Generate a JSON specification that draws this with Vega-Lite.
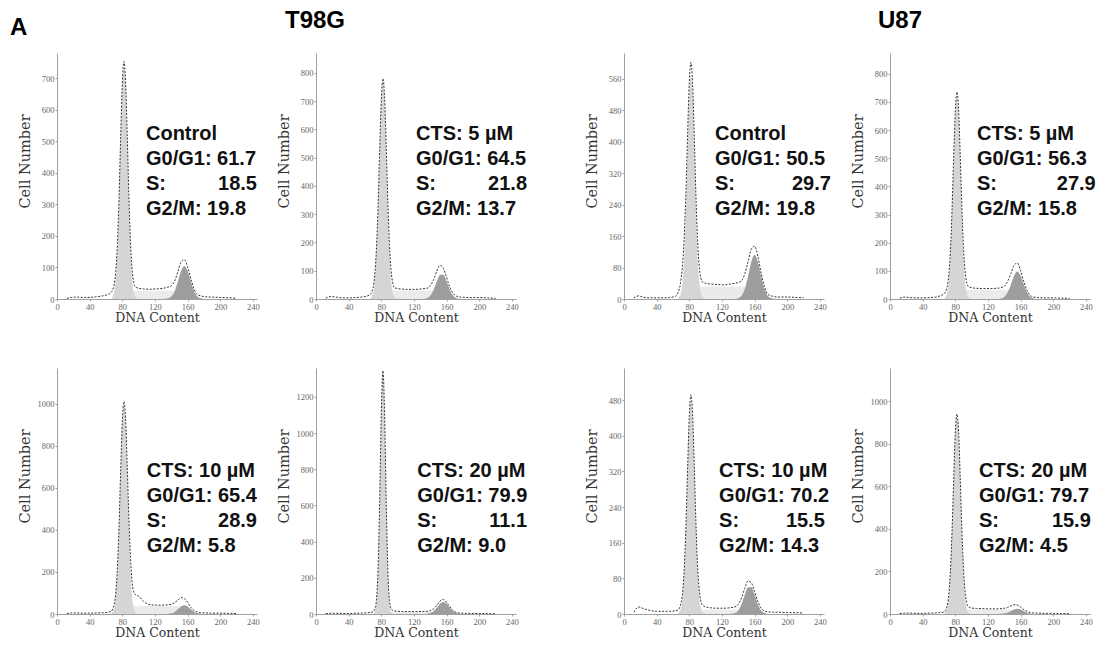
{
"$schema":"https://vega.github.io/schema/vega-lite/v6.json",
"background":"white",
"padding":{"left":10,"top":9,"right":0,"bottom":0},
"title":{"text":"A","anchor":"start","frame":"bounds","offset":-31,"dx":-7},
"spacing":56,
"datasets":{
"t":[
{"p":1,"ln":1,"lab":"Control"},{"p":1,"ln":2,"lab":"G0/G1: 61.7"},{"p":1,"ln":3,"lab":"S:","val":"18.5"},{"p":1,"ln":4,"lab":"G2/M: 19.8"},
{"p":2,"ln":1,"lab":"CTS: 5 µM"},{"p":2,"ln":2,"lab":"G0/G1: 64.5"},{"p":2,"ln":3,"lab":"S:","val":"21.8"},{"p":2,"ln":4,"lab":"G2/M: 13.7"},
{"p":3,"ln":1,"lab":"CTS: 10 µM"},{"p":3,"ln":2,"lab":"G0/G1: 65.4"},{"p":3,"ln":3,"lab":"S:","val":"28.9"},{"p":3,"ln":4,"lab":"G2/M: 5.8"},
{"p":4,"ln":1,"lab":"Control"},{"p":4,"ln":2,"lab":"G0/G1: 50.5"},{"p":4,"ln":3,"lab":"S:","val":"29.7"},{"p":4,"ln":4,"lab":"G2/M: 19.8"},
{"p":5,"ln":1,"lab":"CTS: 20 µM"},{"p":5,"ln":2,"lab":"G0/G1: 79.9"},{"p":5,"ln":3,"lab":"S:","val":"11.1"},{"p":5,"ln":4,"lab":"G2/M: 9.0"},
{"p":6,"ln":1,"lab":"CTS: 5 µM"},{"p":6,"ln":2,"lab":"G0/G1: 56.3"},{"p":6,"ln":3,"lab":"S:","val":"27.9"},{"p":6,"ln":4,"lab":"G2/M: 15.8"},
{"p":7,"ln":1,"lab":"CTS: 10 µM"},{"p":7,"ln":2,"lab":"G0/G1: 70.2"},{"p":7,"ln":3,"lab":"S:","val":"15.5"},{"p":7,"ln":4,"lab":"G2/M: 14.3"},
{"p":8,"ln":1,"lab":"CTS: 20 µM"},{"p":8,"ln":2,"lab":"G0/G1: 79.7"},{"p":8,"ln":3,"lab":"S:","val":"15.9"},{"p":8,"ln":4,"lab":"G2/M: 4.5"}
],
"h":[
{"p":1,"x":12,"d":2},{"p":1,"x":18,"d":5},{"p":1,"x":24,"d":6},{"p":1,"x":32,"d":5},{"p":1,"x":40,"d":5},{"p":1,"x":48,"d":7},{"p":1,"x":56,"d":10},{"p":1,"x":62,"d":14},
{"p":1,"x":66,"d":20,"g1":0},{"p":1,"x":70,"d":45,"g1":21},{"p":1,"x":72,"d":87,"g1":62},{"p":1,"x":74,"d":175,"g1":151},
{"p":1,"x":76,"d":322,"g1":302,"s":0},{"p":1,"x":78,"d":514,"g1":495,"s":4},{"p":1,"x":80,"d":684,"g1":666,"s":8},{"p":1,"x":82,"d":753,"g1":735,"s":13},
{"p":1,"x":84,"d":689,"g1":666,"s":18},{"p":1,"x":86,"d":522,"g1":495,"s":22},{"p":1,"x":88,"d":332,"g1":302,"s":25},{"p":1,"x":90,"d":182,"g1":151,"s":26},
{"p":1,"x":92,"d":94,"g1":62,"s":26},{"p":1,"x":94,"d":53,"g1":21,"s":26},{"p":1,"x":96,"d":38,"g1":6,"s":26},{"p":1,"x":100,"d":34,"g1":0,"s":26},
{"p":1,"x":106,"d":32,"s":26},{"p":1,"x":114,"d":31,"s":26},{"p":1,"x":122,"d":32,"s":26},{"p":1,"x":130,"d":34,"s":26,"g2":0},
{"p":1,"x":136,"d":38,"s":26,"g2":2},{"p":1,"x":140,"d":42,"s":26,"g2":8},{"p":1,"x":144,"d":56,"s":26,"g2":24},{"p":1,"x":148,"d":86,"s":26,"g2":55},
{"p":1,"x":152,"d":117,"s":23,"g2":89},{"p":1,"x":156,"d":125,"s":16,"g2":105},{"p":1,"x":160,"d":102,"s":8,"g2":89},{"p":1,"x":164,"d":64,"s":3,"g2":55},
{"p":1,"x":168,"d":31,"s":0,"g2":24},{"p":1,"x":172,"d":14,"g2":8},{"p":1,"x":176,"d":10,"g2":2},{"p":1,"x":182,"d":7,"g2":0},
{"p":1,"x":190,"d":6},{"p":1,"x":200,"d":5},{"p":1,"x":210,"d":4},{"p":1,"x":220,"d":2},

{"p":2,"x":12,"d":3},{"p":2,"x":18,"d":9},{"p":2,"x":24,"d":7},{"p":2,"x":32,"d":4},{"p":2,"x":40,"d":4},{"p":2,"x":48,"d":5},{"p":2,"x":56,"d":7},{"p":2,"x":62,"d":10},
{"p":2,"x":66,"d":15,"g1":0},{"p":2,"x":70,"d":40,"g1":22},{"p":2,"x":72,"d":85,"g1":65},{"p":2,"x":74,"d":175,"g1":157},
{"p":2,"x":76,"d":326,"g1":312,"s":0},{"p":2,"x":78,"d":527,"g1":512,"s":5},{"p":2,"x":80,"d":704,"g1":689,"s":9},{"p":2,"x":82,"d":779,"g1":760,"s":15},
{"p":2,"x":84,"d":714,"g1":689,"s":21},{"p":2,"x":86,"d":542,"g1":512,"s":26},{"p":2,"x":88,"d":345,"g1":312,"s":29},{"p":2,"x":90,"d":192,"g1":157,"s":30},
{"p":2,"x":92,"d":100,"g1":65,"s":30},{"p":2,"x":94,"d":57,"g1":22,"s":30},{"p":2,"x":96,"d":40,"g1":6,"s":30},{"p":2,"x":100,"d":37,"g1":0,"s":30},
{"p":2,"x":106,"d":35,"s":30},{"p":2,"x":114,"d":34,"s":30},{"p":2,"x":122,"d":34,"s":30},{"p":2,"x":130,"d":36,"s":30,"g2":0},
{"p":2,"x":136,"d":38,"s":30,"g2":3},{"p":2,"x":140,"d":47,"s":30,"g2":12},{"p":2,"x":144,"d":68,"s":30,"g2":32},{"p":2,"x":148,"d":99,"s":30,"g2":62},
{"p":2,"x":152,"d":119,"s":27,"g2":86},{"p":2,"x":156,"d":109,"s":18,"g2":86},{"p":2,"x":160,"d":76,"s":9,"g2":62},{"p":2,"x":164,"d":41,"s":3,"g2":32},
{"p":2,"x":168,"d":20,"s":0,"g2":12},{"p":2,"x":172,"d":10,"g2":3},{"p":2,"x":176,"d":7,"g2":1},{"p":2,"x":182,"d":6,"g2":0},
{"p":2,"x":190,"d":5},{"p":2,"x":200,"d":5},{"p":2,"x":210,"d":4},{"p":2,"x":220,"d":2},

{"p":3,"x":12,"d":2},{"p":3,"x":18,"d":5},{"p":3,"x":24,"d":5},{"p":3,"x":32,"d":4},{"p":3,"x":40,"d":4},{"p":3,"x":48,"d":5},{"p":3,"x":56,"d":6},{"p":3,"x":62,"d":8},
{"p":3,"x":66,"d":12,"g1":0},{"p":3,"x":70,"d":45,"g1":29},{"p":3,"x":72,"d":100,"g1":84},{"p":3,"x":74,"d":220,"g1":204},
{"p":3,"x":76,"d":420,"g1":407,"s":0},{"p":3,"x":78,"d":680,"g1":667,"s":6},{"p":3,"x":80,"d":915,"g1":897,"s":11},{"p":3,"x":82,"d":1010,"g1":990,"s":19},
{"p":3,"x":84,"d":930,"g1":897,"s":27},{"p":3,"x":86,"d":710,"g1":667,"s":32},{"p":3,"x":88,"d":460,"g1":407,"s":36},{"p":3,"x":90,"d":270,"g1":204,"s":38},
{"p":3,"x":92,"d":150,"g1":84,"s":38},{"p":3,"x":94,"d":105,"g1":29,"s":38},{"p":3,"x":96,"d":92,"g1":8,"s":38},{"p":3,"x":100,"d":85,"g1":0,"s":38},
{"p":3,"x":106,"d":60,"s":38},{"p":3,"x":114,"d":44,"s":38},{"p":3,"x":122,"d":42,"s":38},{"p":3,"x":130,"d":42,"s":38,"g2":0},
{"p":3,"x":136,"d":44,"s":38,"g2":1},{"p":3,"x":140,"d":46,"s":38,"g2":3},{"p":3,"x":144,"d":54,"s":38,"g2":10},{"p":3,"x":148,"d":66,"s":38,"g2":22},
{"p":3,"x":152,"d":78,"s":34,"g2":36},{"p":3,"x":156,"d":74,"s":23,"g2":42},{"p":3,"x":160,"d":55,"s":11,"g2":36},{"p":3,"x":164,"d":32,"s":4,"g2":22},
{"p":3,"x":168,"d":16,"s":0,"g2":10},{"p":3,"x":172,"d":9,"g2":3},{"p":3,"x":176,"d":6,"g2":1},{"p":3,"x":182,"d":5,"g2":0},
{"p":3,"x":190,"d":4},{"p":3,"x":200,"d":4},{"p":3,"x":210,"d":3},{"p":3,"x":220,"d":2},

{"p":4,"x":12,"d":3},{"p":4,"x":18,"d":8},{"p":4,"x":24,"d":4},{"p":4,"x":32,"d":3},{"p":4,"x":40,"d":3},{"p":4,"x":48,"d":3},{"p":4,"x":56,"d":4},{"p":4,"x":62,"d":6},
{"p":4,"x":66,"d":15,"g1":0},{"p":4,"x":70,"d":52,"g1":17},{"p":4,"x":72,"d":93,"g1":48},{"p":4,"x":74,"d":167,"g1":117},
{"p":4,"x":76,"d":279,"g1":234,"s":0},{"p":4,"x":78,"d":424,"g1":384,"s":5},{"p":4,"x":80,"d":551,"g1":516,"s":10},{"p":4,"x":82,"d":601,"g1":570,"s":16},
{"p":4,"x":84,"d":548,"g1":516,"s":22},{"p":4,"x":86,"d":419,"g1":384,"s":27},{"p":4,"x":88,"d":270,"g1":234,"s":30},{"p":4,"x":90,"d":155,"g1":117,"s":32},
{"p":4,"x":92,"d":86,"g1":48,"s":32},{"p":4,"x":94,"d":55,"g1":17,"s":32},{"p":4,"x":96,"d":43,"g1":5,"s":32},{"p":4,"x":100,"d":40,"g1":0,"s":32},
{"p":4,"x":106,"d":38,"s":32},{"p":4,"x":114,"d":37,"s":32},{"p":4,"x":122,"d":36,"s":32},{"p":4,"x":130,"d":38,"s":32},
{"p":4,"x":136,"d":40,"s":32,"g2":0},{"p":4,"x":140,"d":42,"s":32,"g2":2},{"p":4,"x":144,"d":46,"s":32,"g2":8},{"p":4,"x":148,"d":64,"s":32,"g2":26},
{"p":4,"x":152,"d":95,"s":31,"g2":58},{"p":4,"x":156,"d":127,"s":26,"g2":95},{"p":4,"x":160,"d":134,"s":16,"g2":112},{"p":4,"x":164,"d":108,"s":7,"g2":95},
{"p":4,"x":168,"d":66,"s":2,"g2":58},{"p":4,"x":172,"d":32,"s":0,"g2":26},{"p":4,"x":176,"d":12,"g2":8},{"p":4,"x":182,"d":7,"g2":1},
{"p":4,"x":190,"d":5,"g2":0},{"p":4,"x":200,"d":5},{"p":4,"x":210,"d":4},{"p":4,"x":220,"d":3},

{"p":5,"x":12,"d":2},{"p":5,"x":18,"d":4},{"p":5,"x":24,"d":4},{"p":5,"x":32,"d":3},{"p":5,"x":40,"d":3},{"p":5,"x":48,"d":4},{"p":5,"x":56,"d":5},{"p":5,"x":62,"d":6},
{"p":5,"x":66,"d":8},{"p":5,"x":70,"d":12,"g1":0},{"p":5,"x":72,"d":25,"g1":10},{"p":5,"x":74,"d":75,"g1":58},
{"p":5,"x":76,"d":245,"g1":229,"s":0},{"p":5,"x":78,"d":625,"g1":609,"s":2},{"p":5,"x":80,"d":1110,"g1":1095,"s":4},{"p":5,"x":82,"d":1345,"g1":1330,"s":6},
{"p":5,"x":84,"d":1110,"g1":1095,"s":8},{"p":5,"x":86,"d":625,"g1":609,"s":10},{"p":5,"x":88,"d":245,"g1":229,"s":11},{"p":5,"x":90,"d":75,"g1":58,"s":12},
{"p":5,"x":92,"d":28,"g1":10,"s":12},{"p":5,"x":94,"d":20,"g1":0,"s":12},{"p":5,"x":96,"d":17,"s":12},{"p":5,"x":100,"d":15,"s":12},
{"p":5,"x":106,"d":14,"s":12},{"p":5,"x":114,"d":13,"s":12},{"p":5,"x":122,"d":13,"s":12},{"p":5,"x":130,"d":14,"s":12,"g2":0},
{"p":5,"x":136,"d":15,"s":12,"g2":1},{"p":5,"x":140,"d":19,"s":12,"g2":5},{"p":5,"x":144,"d":29,"s":12,"g2":15},{"p":5,"x":148,"d":48,"s":12,"g2":34},
{"p":5,"x":152,"d":72,"s":11,"g2":56},{"p":5,"x":156,"d":80,"s":7,"g2":66},{"p":5,"x":160,"d":64,"s":4,"g2":56},{"p":5,"x":164,"d":40,"s":1,"g2":34},
{"p":5,"x":168,"d":19,"s":0,"g2":15},{"p":5,"x":172,"d":9,"g2":5},{"p":5,"x":176,"d":5,"g2":1},{"p":5,"x":182,"d":4,"g2":0},
{"p":5,"x":190,"d":3},{"p":5,"x":200,"d":3},{"p":5,"x":210,"d":2},{"p":5,"x":220,"d":1},

{"p":6,"x":12,"d":3},{"p":6,"x":18,"d":7},{"p":6,"x":24,"d":5},{"p":6,"x":32,"d":4},{"p":6,"x":40,"d":4},{"p":6,"x":48,"d":5},{"p":6,"x":56,"d":7},{"p":6,"x":62,"d":12},
{"p":6,"x":66,"d":18,"g1":0},{"p":6,"x":70,"d":43,"g1":21},{"p":6,"x":72,"d":85,"g1":61},{"p":6,"x":74,"d":170,"g1":147},
{"p":6,"x":76,"d":318,"g1":294,"s":0},{"p":6,"x":78,"d":505,"g1":482,"s":5},{"p":6,"x":80,"d":668,"g1":648,"s":10},{"p":6,"x":82,"d":735,"g1":715,"s":16},
{"p":6,"x":84,"d":675,"g1":648,"s":22},{"p":6,"x":86,"d":513,"g1":482,"s":27},{"p":6,"x":88,"d":328,"g1":294,"s":30},{"p":6,"x":90,"d":183,"g1":147,"s":32},
{"p":6,"x":92,"d":98,"g1":61,"s":32},{"p":6,"x":94,"d":58,"g1":21,"s":32},{"p":6,"x":96,"d":44,"g1":6,"s":32},{"p":6,"x":100,"d":40,"g1":0,"s":32},
{"p":6,"x":106,"d":38,"s":32},{"p":6,"x":114,"d":37,"s":32},{"p":6,"x":122,"d":37,"s":32},{"p":6,"x":130,"d":38,"s":32,"g2":0},
{"p":6,"x":136,"d":40,"s":32,"g2":2},{"p":6,"x":140,"d":45,"s":32,"g2":7},{"p":6,"x":144,"d":62,"s":32,"g2":23},{"p":6,"x":148,"d":90,"s":32,"g2":51},
{"p":6,"x":152,"d":120,"s":29,"g2":83},{"p":6,"x":156,"d":128,"s":19,"g2":98},{"p":6,"x":160,"d":100,"s":10,"g2":83},{"p":6,"x":164,"d":60,"s":3,"g2":51},
{"p":6,"x":168,"d":30,"s":0,"g2":23},{"p":6,"x":172,"d":12,"g2":7},{"p":6,"x":176,"d":7,"g2":2},{"p":6,"x":182,"d":5,"g2":0},
{"p":6,"x":190,"d":4},{"p":6,"x":200,"d":4},{"p":6,"x":210,"d":3},{"p":6,"x":220,"d":2},

{"p":7,"x":12,"d":4},{"p":7,"x":18,"d":16},{"p":7,"x":24,"d":12},{"p":7,"x":32,"d":8},{"p":7,"x":40,"d":6},{"p":7,"x":48,"d":6},{"p":7,"x":56,"d":6},{"p":7,"x":62,"d":7},
{"p":7,"x":66,"d":9,"g1":0},{"p":7,"x":70,"d":25,"g1":14},{"p":7,"x":72,"d":52,"g1":41},{"p":7,"x":74,"d":110,"g1":99},
{"p":7,"x":76,"d":205,"g1":197,"s":0},{"p":7,"x":78,"d":332,"g1":324,"s":2},{"p":7,"x":80,"d":445,"g1":435,"s":3},{"p":7,"x":82,"d":492,"g1":480,"s":5},
{"p":7,"x":84,"d":448,"g1":435,"s":7},{"p":7,"x":86,"d":337,"g1":324,"s":8},{"p":7,"x":88,"d":211,"g1":197,"s":9},{"p":7,"x":90,"d":114,"g1":99,"s":10},
{"p":7,"x":92,"d":56,"g1":41,"s":10},{"p":7,"x":94,"d":30,"g1":14,"s":10},{"p":7,"x":96,"d":20,"g1":4,"s":10},{"p":7,"x":100,"d":16,"g1":0,"s":10},
{"p":7,"x":106,"d":14,"s":10},{"p":7,"x":114,"d":13,"s":10},{"p":7,"x":122,"d":13,"s":10},{"p":7,"x":130,"d":14,"s":10,"g2":0},
{"p":7,"x":136,"d":16,"s":10,"g2":2},{"p":7,"x":140,"d":22,"s":10,"g2":8},{"p":7,"x":144,"d":36,"s":10,"g2":22},{"p":7,"x":148,"d":58,"s":10,"g2":43},
{"p":7,"x":152,"d":74,"s":9,"g2":60},{"p":7,"x":156,"d":70,"s":6,"g2":60},{"p":7,"x":160,"d":50,"s":3,"g2":43},{"p":7,"x":164,"d":28,"s":1,"g2":22},
{"p":7,"x":168,"d":13,"s":0,"g2":8},{"p":7,"x":172,"d":7,"g2":2},{"p":7,"x":176,"d":5,"g2":0},{"p":7,"x":182,"d":4},
{"p":7,"x":190,"d":4},{"p":7,"x":200,"d":3},{"p":7,"x":210,"d":3},{"p":7,"x":220,"d":2},

{"p":8,"x":12,"d":2},{"p":8,"x":18,"d":4},{"p":8,"x":24,"d":4},{"p":8,"x":32,"d":3},{"p":8,"x":40,"d":3},{"p":8,"x":48,"d":4},{"p":8,"x":56,"d":5},{"p":8,"x":62,"d":7},
{"p":8,"x":66,"d":9,"g1":0},{"p":8,"x":70,"d":38,"g1":27},{"p":8,"x":72,"d":90,"g1":79},{"p":8,"x":74,"d":200,"g1":191},
{"p":8,"x":76,"d":390,"g1":380,"s":0},{"p":8,"x":78,"d":632,"g1":623,"s":3},{"p":8,"x":80,"d":850,"g1":838,"s":6},{"p":8,"x":82,"d":940,"g1":925,"s":10},
{"p":8,"x":84,"d":858,"g1":838,"s":14},{"p":8,"x":86,"d":645,"g1":623,"s":17},{"p":8,"x":88,"d":405,"g1":380,"s":19},{"p":8,"x":90,"d":218,"g1":191,"s":20},
{"p":8,"x":92,"d":105,"g1":79,"s":20},{"p":8,"x":94,"d":52,"g1":27,"s":20},{"p":8,"x":96,"d":34,"g1":7,"s":20},{"p":8,"x":100,"d":28,"g1":0,"s":20},
{"p":8,"x":106,"d":26,"s":20},{"p":8,"x":114,"d":25,"s":20},{"p":8,"x":122,"d":24,"s":20},{"p":8,"x":130,"d":24,"s":20,"g2":0},
{"p":8,"x":136,"d":25,"s":20},{"p":8,"x":140,"d":27,"s":20,"g2":2},{"p":8,"x":144,"d":31,"s":20,"g2":6},{"p":8,"x":148,"d":38,"s":20,"g2":13},
{"p":8,"x":152,"d":44,"s":18,"g2":21},{"p":8,"x":156,"d":42,"s":12,"g2":25},{"p":8,"x":160,"d":33,"s":6,"g2":21},{"p":8,"x":164,"d":20,"s":2,"g2":13},
{"p":8,"x":168,"d":12,"s":0,"g2":6},{"p":8,"x":172,"d":7,"g2":2},{"p":8,"x":176,"d":5,"g2":0},{"p":8,"x":182,"d":4},
{"p":8,"x":190,"d":3},{"p":8,"x":200,"d":3},{"p":8,"x":210,"d":2},{"p":8,"x":220,"d":1}
]},
"hconcat":[
{"title":{"text":"T98G","anchor":"start","frame":"bounds","dx":268,"offset":20},"spacing":44,"vconcat":[
{"bounds":"flush","spacing":59,"hconcat":[
{"width":200,"height":246,"resolve":{"scale":{"y":"independent","x":"independent"}},"layer":[
{"data":{"name":"h"},"transform":[{"filter":"datum.p==1"},{"fold":["s","g1","g2","d"],"as":["c","v"]},{"filter":"isValid(datum.v)"}],
"encoding":{"x":{"field":"x","type":"quantitative","scale":{"domain":[0,245],"nice":false},"axis":{"values":[0,40,80,120,160,200,240],"labelOverlap":false},"title":"DNA Content"},
"y":{"field":"v","type":"quantitative","scale":{"domain":[0,780],"nice":false},"axis":{"values":[0,100,200,300,400,500,600,700],"format":"d"},"title":"Cell Number"}},
"layer":[
{"transform":[{"filter":"datum.c=='s'"}],"mark":{"type":"area","color":"#ebebeb"}},
{"transform":[{"filter":"datum.c=='g1'"}],"mark":{"type":"area","color":"#d5d5d5"}},
{"transform":[{"filter":"datum.c=='g2'"}],"mark":{"type":"area","color":"#9d9d9d"}},
{"transform":[{"filter":"datum.c=='d'"}],"mark":{"type":"line","color":"#333","strokeDash":[2,1.5],"strokeWidth":1}}]},
{"data":{"name":"t"},"transform":[{"filter":"datum.p==1"}],
"encoding":{"y":{"field":"ln","type":"quantitative","scale":{"domain":[-2.24,7.6],"reverse":true},"axis":null}},
"layer":[
{"mark":{"type":"text","align":"left"},"encoding":{"x":{"datum":109,"scale":{"domain":[0,245],"nice":false},"axis":null},"text":{"field":"lab"}}},
{"transform":[{"filter":"isValid(datum.val)"}],"mark":{"type":"text","align":"right"},"encoding":{"x":{"datum":245,"scale":{"domain":[0,245],"nice":false},"axis":null},"text":{"field":"val"}}}]}]},
{"width":200,"height":246,"resolve":{"scale":{"y":"independent","x":"independent"}},"layer":[
{"data":{"name":"h"},"transform":[{"filter":"datum.p==2"},{"fold":["s","g1","g2","d"],"as":["c","v"]},{"filter":"isValid(datum.v)"}],
"encoding":{"x":{"field":"x","type":"quantitative","scale":{"domain":[0,245],"nice":false},"axis":{"values":[0,40,80,120,160,200,240],"labelOverlap":false},"title":"DNA Content"},
"y":{"field":"v","type":"quantitative","scale":{"domain":[0,870],"nice":false},"axis":{"values":[0,100,200,300,400,500,600,700,800],"format":"d"},"title":"Cell Number"}},
"layer":[
{"transform":[{"filter":"datum.c=='s'"}],"mark":{"type":"area","color":"#ebebeb"}},
{"transform":[{"filter":"datum.c=='g1'"}],"mark":{"type":"area","color":"#d5d5d5"}},
{"transform":[{"filter":"datum.c=='g2'"}],"mark":{"type":"area","color":"#9d9d9d"}},
{"transform":[{"filter":"datum.c=='d'"}],"mark":{"type":"line","color":"#333","strokeDash":[2,1.5],"strokeWidth":1}}]},
{"data":{"name":"t"},"transform":[{"filter":"datum.p==2"}],
"encoding":{"y":{"field":"ln","type":"quantitative","scale":{"domain":[-2.24,7.6],"reverse":true},"axis":null}},
"layer":[
{"mark":{"type":"text","align":"left"},"encoding":{"x":{"datum":122.5,"scale":{"domain":[0,245],"nice":false},"axis":null},"text":{"field":"lab"}}},
{"transform":[{"filter":"isValid(datum.val)"}],"mark":{"type":"text","align":"right"},"encoding":{"x":{"datum":258.5,"scale":{"domain":[0,245],"nice":false},"axis":null},"text":{"field":"val"}}}]}]}
]},
{"bounds":"flush","spacing":59,"hconcat":[
{"width":200,"height":246,"resolve":{"scale":{"y":"independent","x":"independent"}},"layer":[
{"data":{"name":"h"},"transform":[{"filter":"datum.p==3"},{"fold":["s","g1","g2","d"],"as":["c","v"]},{"filter":"isValid(datum.v)"}],
"encoding":{"x":{"field":"x","type":"quantitative","scale":{"domain":[0,245],"nice":false},"axis":{"values":[0,40,80,120,160,200,240],"labelOverlap":false},"title":"DNA Content"},
"y":{"field":"v","type":"quantitative","scale":{"domain":[0,1170],"nice":false},"axis":{"values":[0,200,400,600,800,1000],"format":"d"},"title":"Cell Number"}},
"layer":[
{"transform":[{"filter":"datum.c=='s'"}],"mark":{"type":"area","color":"#ebebeb"}},
{"transform":[{"filter":"datum.c=='g1'"}],"mark":{"type":"area","color":"#d5d5d5"}},
{"transform":[{"filter":"datum.c=='g2'"}],"mark":{"type":"area","color":"#9d9d9d"}},
{"transform":[{"filter":"datum.c=='d'"}],"mark":{"type":"line","color":"#333","strokeDash":[2,1.5],"strokeWidth":1}}]},
{"data":{"name":"t"},"transform":[{"filter":"datum.p==3"}],
"encoding":{"y":{"field":"ln","type":"quantitative","scale":{"domain":[-3.12,6.72],"reverse":true},"axis":null}},
"layer":[
{"mark":{"type":"text","align":"left"},"encoding":{"x":{"datum":110,"scale":{"domain":[0,245],"nice":false},"axis":null},"text":{"field":"lab"}}},
{"transform":[{"filter":"isValid(datum.val)"}],"mark":{"type":"text","align":"right"},"encoding":{"x":{"datum":245,"scale":{"domain":[0,245],"nice":false},"axis":null},"text":{"field":"val"}}}]}]},
{"width":200,"height":246,"resolve":{"scale":{"y":"independent","x":"independent"}},"layer":[
{"data":{"name":"h"},"transform":[{"filter":"datum.p==5"},{"fold":["s","g1","g2","d"],"as":["c","v"]},{"filter":"isValid(datum.v)"}],
"encoding":{"x":{"field":"x","type":"quantitative","scale":{"domain":[0,245],"nice":false},"axis":{"values":[0,40,80,120,160,200,240],"labelOverlap":false},"title":"DNA Content"},
"y":{"field":"v","type":"quantitative","scale":{"domain":[0,1360],"nice":false},"axis":{"values":[0,200,400,600,800,1000,1200],"format":"d"},"title":"Cell Number"}},
"layer":[
{"transform":[{"filter":"datum.c=='s'"}],"mark":{"type":"area","color":"#ebebeb"}},
{"transform":[{"filter":"datum.c=='g1'"}],"mark":{"type":"area","color":"#d5d5d5"}},
{"transform":[{"filter":"datum.c=='g2'"}],"mark":{"type":"area","color":"#9d9d9d"}},
{"transform":[{"filter":"datum.c=='d'"}],"mark":{"type":"line","color":"#333","strokeDash":[2,1.5],"strokeWidth":1}}]},
{"data":{"name":"t"},"transform":[{"filter":"datum.p==5"}],
"encoding":{"y":{"field":"ln","type":"quantitative","scale":{"domain":[-3.12,6.72],"reverse":true},"axis":null}},
"layer":[
{"mark":{"type":"text","align":"left"},"encoding":{"x":{"datum":124,"scale":{"domain":[0,245],"nice":false},"axis":null},"text":{"field":"lab"}}},
{"transform":[{"filter":"isValid(datum.val)"}],"mark":{"type":"text","align":"right"},"encoding":{"x":{"datum":258.5,"scale":{"domain":[0,245],"nice":false},"axis":null},"text":{"field":"val"}}}]}]}
]}
]},
{"title":{"text":"U87","anchor":"start","frame":"bounds","dx":294,"offset":20},"spacing":44,"vconcat":[
{"bounds":"flush","spacing":66,"hconcat":[
{"width":200,"height":246,"resolve":{"scale":{"y":"independent","x":"independent"}},"layer":[
{"data":{"name":"h"},"transform":[{"filter":"datum.p==4"},{"fold":["s","g1","g2","d"],"as":["c","v"]},{"filter":"isValid(datum.v)"}],
"encoding":{"x":{"field":"x","type":"quantitative","scale":{"domain":[0,245],"nice":false},"axis":{"values":[0,40,80,120,160,200,240],"labelOverlap":false},"title":"DNA Content"},
"y":{"field":"v","type":"quantitative","scale":{"domain":[0,625],"nice":false},"axis":{"values":[0,80,160,240,320,400,480,560],"format":"d"},"title":"Cell Number"}},
"layer":[
{"transform":[{"filter":"datum.c=='s'"}],"mark":{"type":"area","color":"#ebebeb"}},
{"transform":[{"filter":"datum.c=='g1'"}],"mark":{"type":"area","color":"#d5d5d5"}},
{"transform":[{"filter":"datum.c=='g2'"}],"mark":{"type":"area","color":"#9d9d9d"}},
{"transform":[{"filter":"datum.c=='d'"}],"mark":{"type":"line","color":"#333","strokeDash":[2,1.5],"strokeWidth":1}}]},
{"data":{"name":"t"},"transform":[{"filter":"datum.p==4"}],
"encoding":{"y":{"field":"ln","type":"quantitative","scale":{"domain":[-2.24,7.6],"reverse":true},"axis":null}},
"layer":[
{"mark":{"type":"text","align":"left"},"encoding":{"x":{"datum":111.5,"scale":{"domain":[0,245],"nice":false},"axis":null},"text":{"field":"lab"}}},
{"transform":[{"filter":"isValid(datum.val)"}],"mark":{"type":"text","align":"right"},"encoding":{"x":{"datum":253.5,"scale":{"domain":[0,245],"nice":false},"axis":null},"text":{"field":"val"}}}]}]},
{"width":200,"height":246,"resolve":{"scale":{"y":"independent","x":"independent"}},"layer":[
{"data":{"name":"h"},"transform":[{"filter":"datum.p==6"},{"fold":["s","g1","g2","d"],"as":["c","v"]},{"filter":"isValid(datum.v)"}],
"encoding":{"x":{"field":"x","type":"quantitative","scale":{"domain":[0,245],"nice":false},"axis":{"values":[0,40,80,120,160,200,240],"labelOverlap":false},"title":"DNA Content"},
"y":{"field":"v","type":"quantitative","scale":{"domain":[0,874],"nice":false},"axis":{"values":[0,100,200,300,400,500,600,700,800],"format":"d"},"title":"Cell Number"}},
"layer":[
{"transform":[{"filter":"datum.c=='s'"}],"mark":{"type":"area","color":"#ebebeb"}},
{"transform":[{"filter":"datum.c=='g1'"}],"mark":{"type":"area","color":"#d5d5d5"}},
{"transform":[{"filter":"datum.c=='g2'"}],"mark":{"type":"area","color":"#9d9d9d"}},
{"transform":[{"filter":"datum.c=='d'"}],"mark":{"type":"line","color":"#333","strokeDash":[2,1.5],"strokeWidth":1}}]},
{"data":{"name":"t"},"transform":[{"filter":"datum.p==6"}],
"encoding":{"y":{"field":"ln","type":"quantitative","scale":{"domain":[-2.24,7.6],"reverse":true},"axis":null}},
"layer":[
{"mark":{"type":"text","align":"left"},"encoding":{"x":{"datum":106.5,"scale":{"domain":[0,245],"nice":false},"axis":null},"text":{"field":"lab"}}},
{"transform":[{"filter":"isValid(datum.val)"}],"mark":{"type":"text","align":"right"},"encoding":{"x":{"datum":252,"scale":{"domain":[0,245],"nice":false},"axis":null},"text":{"field":"val"}}}]}]}
]},
{"bounds":"flush","spacing":66,"hconcat":[
{"width":200,"height":246,"resolve":{"scale":{"y":"independent","x":"independent"}},"layer":[
{"data":{"name":"h"},"transform":[{"filter":"datum.p==7"},{"fold":["s","g1","g2","d"],"as":["c","v"]},{"filter":"isValid(datum.v)"}],
"encoding":{"x":{"field":"x","type":"quantitative","scale":{"domain":[0,245],"nice":false},"axis":{"values":[0,40,80,120,160,200,240],"labelOverlap":false},"title":"DNA Content"},
"y":{"field":"v","type":"quantitative","scale":{"domain":[0,552],"nice":false},"axis":{"values":[0,80,160,240,320,400,480],"format":"d"},"title":"Cell Number"}},
"layer":[
{"transform":[{"filter":"datum.c=='s'"}],"mark":{"type":"area","color":"#ebebeb"}},
{"transform":[{"filter":"datum.c=='g1'"}],"mark":{"type":"area","color":"#d5d5d5"}},
{"transform":[{"filter":"datum.c=='g2'"}],"mark":{"type":"area","color":"#9d9d9d"}},
{"transform":[{"filter":"datum.c=='d'"}],"mark":{"type":"line","color":"#333","strokeDash":[2,1.5],"strokeWidth":1}}]},
{"data":{"name":"t"},"transform":[{"filter":"datum.p==7"}],
"encoding":{"y":{"field":"ln","type":"quantitative","scale":{"domain":[-3.12,6.72],"reverse":true},"axis":null}},
"layer":[
{"mark":{"type":"text","align":"left"},"encoding":{"x":{"datum":116.5,"scale":{"domain":[0,245],"nice":false},"axis":null},"text":{"field":"lab"}}},
{"transform":[{"filter":"isValid(datum.val)"}],"mark":{"type":"text","align":"right"},"encoding":{"x":{"datum":246,"scale":{"domain":[0,245],"nice":false},"axis":null},"text":{"field":"val"}}}]}]},
{"width":200,"height":246,"resolve":{"scale":{"y":"independent","x":"independent"}},"layer":[
{"data":{"name":"h"},"transform":[{"filter":"datum.p==8"},{"fold":["s","g1","g2","d"],"as":["c","v"]},{"filter":"isValid(datum.v)"}],
"encoding":{"x":{"field":"x","type":"quantitative","scale":{"domain":[0,245],"nice":false},"axis":{"values":[0,40,80,120,160,200,240],"labelOverlap":false},"title":"DNA Content"},
"y":{"field":"v","type":"quantitative","scale":{"domain":[0,1156],"nice":false},"axis":{"values":[0,200,400,600,800,1000],"format":"d"},"title":"Cell Number"}},
"layer":[
{"transform":[{"filter":"datum.c=='s'"}],"mark":{"type":"area","color":"#ebebeb"}},
{"transform":[{"filter":"datum.c=='g1'"}],"mark":{"type":"area","color":"#d5d5d5"}},
{"transform":[{"filter":"datum.c=='g2'"}],"mark":{"type":"area","color":"#9d9d9d"}},
{"transform":[{"filter":"datum.c=='d'"}],"mark":{"type":"line","color":"#333","strokeDash":[2,1.5],"strokeWidth":1}}]},
{"data":{"name":"t"},"transform":[{"filter":"datum.p==8"}],
"encoding":{"y":{"field":"ln","type":"quantitative","scale":{"domain":[-3.12,6.72],"reverse":true},"axis":null}},
"layer":[
{"mark":{"type":"text","align":"left"},"encoding":{"x":{"datum":109,"scale":{"domain":[0,245],"nice":false},"axis":null},"text":{"field":"lab"}}},
{"transform":[{"filter":"isValid(datum.val)"}],"mark":{"type":"text","align":"right"},"encoding":{"x":{"datum":246,"scale":{"domain":[0,245],"nice":false},"axis":null},"text":{"field":"val"}}}]}]}
]}
]}
],
"config":{
"view":{"stroke":null},
"font":"Liberation Sans",
"title":{"fontSize":24,"font":"Liberation Sans","fontWeight":"bold","color":"#000"},
"axis":{"grid":false,"domainColor":"#a0a0a0","tickColor":"#a0a0a0","tickSize":2,"labelFont":"Liberation Serif","labelFontSize":8.5,"labelColor":"#666","labelFlush":false,"labelOverlap":false,"titleFont":"DejaVu Serif","titleFontWeight":"normal","titleColor":"#333"},
"axisX":{"labelPadding":1,"titleFontSize":12.5,"titlePadding":1},
"axisY":{"titleFontSize":14.5,"minExtent":22,"maxExtent":22,"titlePadding":3,"labelPadding":1,"titleY":108},
"text":{"font":"Liberation Sans","fontWeight":"bold","fontSize":20,"baseline":"middle","color":"#111"},
"area":{"interpolate":"monotone"},
"line":{"interpolate":"monotone"}
}
}
